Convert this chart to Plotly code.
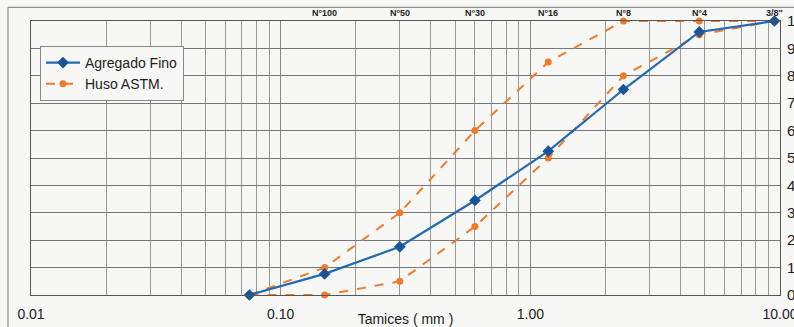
import math
import plotly.graph_objects as go

# Sieve openings (mm) and names
sieve_mm = [0.075, 0.15, 0.30, 0.60, 1.18, 2.36, 4.75, 9.50]
sieve_names = ["N°100", "N°50", "N°30", "N°16", "N°8", "N°4", '3/8"']
sieve_name_mm = [0.15, 0.30, 0.60, 1.18, 2.36, 4.75, 9.50]

agregado_fino = [0, 7.7, 17.6, 34.5, 52.5, 75, 96, 100]
huso_sup = [0, 10, 30, 60, 85, 100, 100, 100]
huso_inf = [0, 0, 5, 25, 50, 80, 95, 100]

x_tickvals = [0.01, 0.1, 1, 10]
x_ticktext = ["0.01", "0.10", "1.00", "10.00"]
y_tickvals = list(range(0, 101, 10))

blue = "#2468B0"
blue_mk = "#1A5597"
orange = "#F07A2A"

fig = go.Figure()
fig.add_trace(go.Scatter(x=sieve_mm, y=huso_sup, mode="lines+markers", name="Huso ASTM.",
                         line=dict(color=orange, width=2, dash="dash"),
                         marker=dict(symbol="circle", size=7, color=orange),
                         cliponaxis=False, showlegend=False))
fig.add_trace(go.Scatter(x=sieve_mm, y=huso_inf, mode="lines+markers", name="Huso ASTM.",
                         line=dict(color=orange, width=2, dash="dash"),
                         marker=dict(symbol="circle", size=7, color=orange),
                         cliponaxis=False, showlegend=False))
fig.add_trace(go.Scatter(x=sieve_mm, y=agregado_fino, mode="lines+markers", name="Agregado Fino",
                         line=dict(color=blue, width=2.2),
                         marker=dict(symbol="diamond", size=9, color=blue_mk),
                         cliponaxis=False))
# legend entry for Huso (ordered second)
fig.add_trace(go.Scatter(x=[None], y=[None], mode="lines+markers", name="Huso ASTM.",
                         line=dict(color=orange, width=2, dash="dash"),
                         marker=dict(symbol="circle", size=7, color=orange)))

minor_vals = [m * 10 ** e for e in (-2, -1, 0) for m in range(2, 10)]

for nm, xv in zip(sieve_names, sieve_name_mm):
    fig.add_annotation(x=math.log10(xv), y=1, xref="x", yref="paper", text="<b>" + nm + "</b>",
                       showarrow=False, yanchor="bottom", yshift=1,
                       font=dict(family="Liberation Sans, Arial", size=9, color="#222"))

# outer frame (left/top edges visible)
fig.add_shape(type="rect", xref="paper", yref="paper", x0=-0.0307, x1=1.2, y0=-0.3, y1=1.05,
              line=dict(color="#777", width=1), layer="below")

fig.update_layout(
    width=794, height=327,
    margin=dict(l=31, r=14, t=21, b=32, autoexpand=False),
    paper_bgcolor="#F7F7F5", plot_bgcolor="#F7F7F5",
    font=dict(family="Liberation Sans, Arial", size=14, color="#222"),
    showlegend=True,
    legend=dict(x=0.012, y=0.909, xanchor="left", yanchor="top",
                bgcolor="#F7F7F5", bordercolor="#888", borderwidth=1,
                font=dict(size=14), tracegroupgap=0, itemwidth=34),
    xaxis=dict(type="log", range=[-2, 1], tickvals=x_tickvals, ticktext=x_ticktext,
               automargin=False, ticklabeloverflow="allow",
               showgrid=True, gridcolor="#888", gridwidth=1,
               minor=dict(tickvals=minor_vals, showgrid=True, gridcolor="#999", gridwidth=1),
               showline=True, linecolor="#555", mirror=True, ticks="",
               tickfont=dict(size=14), zeroline=False, ticklabelstandoff=6,
               title=dict(text="Tamices ( mm )", font=dict(size=14), standoff=0)),
    yaxis=dict(range=[0, 100], tickvals=y_tickvals, side="right", automargin=False,
               ticklabeloverflow="allow",
               showgrid=True, gridcolor="#777", gridwidth=1,
               showline=True, linecolor="#555", mirror=True, ticks="",
               tickfont=dict(size=15), zeroline=False, ticklabelstandoff=3),
)

post = ("document.body.style.margin='0';document.body.style.overflow='hidden';"
        "document.documentElement.style.overflow='hidden';")
fig.write_html("out.html", post_script=post, config={"displayModeBar": False})
